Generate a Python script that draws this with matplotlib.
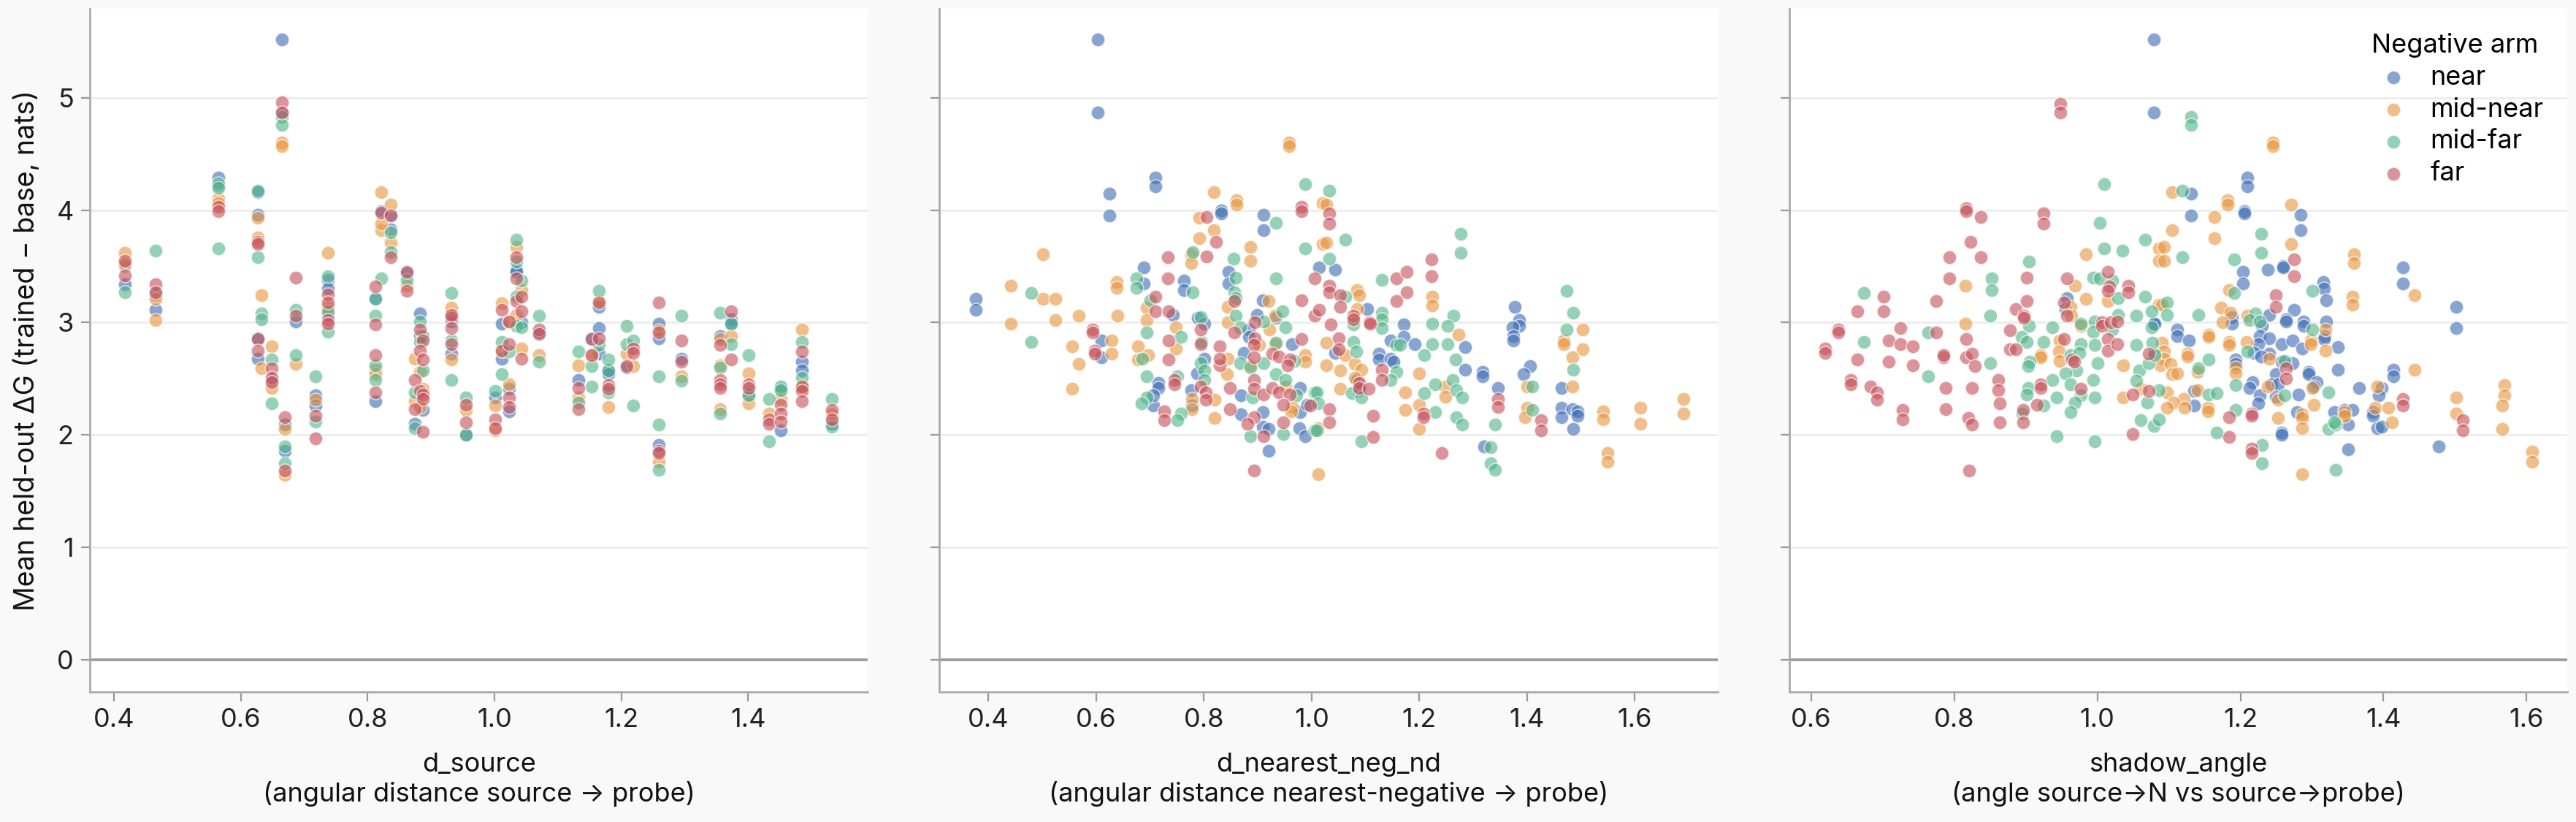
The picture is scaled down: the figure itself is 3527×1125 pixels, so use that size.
import matplotlib

matplotlib.use("Agg")
import matplotlib.pyplot as plt

plt.rcParams["font.family"] = ["Inter", "DejaVu Sans"]

ARMS = ["near", "mid-near", "mid-far", "far"]
ARM_COLORS = ["#3F6FB5", "#E8963F", "#52B58A", "#C6535A"]
Y_TICKS = [0, 1, 2, 3, 4, 5]
Y_LABEL = "Mean held-out \u0394G (trained \u2212 base, nats)"

# panel 1: d_source
src_near = [(0.417, 3.50), (0.417, 3.34), (0.465, 3.11), (0.465, 3.25), (0.565, 4.29), (0.565, 4.22), (0.627, 4.16), (0.627, 3.96), (0.627, 2.86), (0.627, 2.68), (0.649, 2.49), (0.665, 5.52), (0.665, 4.87), (0.669, 2.09), (0.669, 1.86), (0.687, 3.01), (0.718, 2.35), (0.718, 2.26), (0.737, 3.38), (0.737, 3.30), (0.737, 3.07), (0.812, 3.22), (0.812, 2.30), (0.822, 3.99), (0.836, 3.96), (0.836, 3.83), (0.862, 3.44), (0.882, 3.08), (0.882, 2.88), (0.887, 2.22), (0.874, 2.10), (0.932, 3.01), (0.932, 2.72), (0.955, 2.00), (1.001, 2.33), (1.012, 2.99), (1.012, 2.68), (1.023, 2.41), (1.023, 2.21), (1.035, 3.47), (1.035, 3.45), (1.043, 3.00), (1.070, 2.91), (1.133, 2.49), (1.153, 2.86), (1.165, 3.14), (1.165, 2.72), (1.165, 2.95), (1.180, 2.57), (1.180, 2.54), (1.208, 2.60), (1.259, 2.99), (1.259, 2.86), (1.259, 1.91), (1.295, 2.68), (1.356, 2.88), (1.373, 3.03), (1.373, 2.99), (1.401, 2.36), (1.451, 2.41), (1.451, 2.04), (1.485, 2.65), (1.485, 2.57), (1.532, 2.10)]
src_midnear = [(0.417, 3.62), (0.417, 3.52), (0.465, 3.21), (0.465, 3.02), (0.565, 4.10), (0.565, 4.06), (0.627, 3.93), (0.627, 3.76), (0.633, 3.24), (0.633, 2.59), (0.649, 2.79), (0.649, 2.42), (0.665, 4.60), (0.665, 4.57), (0.669, 2.05), (0.669, 1.64), (0.687, 2.63), (0.718, 2.31), (0.737, 3.62), (0.737, 3.14), (0.812, 2.58), (0.812, 2.54), (0.822, 4.16), (0.822, 3.82), (0.822, 3.88), (0.836, 4.05), (0.836, 3.71), (0.862, 3.33), (0.874, 2.68), (0.882, 2.56), (0.887, 2.41), (0.874, 2.30), (0.882, 2.25), (0.932, 3.13), (0.932, 2.67), (0.955, 2.22), (1.001, 2.26), (1.001, 2.04), (1.012, 3.17), (1.012, 2.75), (1.023, 3.00), (1.023, 2.45), (1.035, 3.67), (1.035, 3.07), (1.043, 3.29), (1.043, 2.77), (1.070, 2.71), (1.133, 2.62), (1.133, 2.33), (1.153, 2.71), (1.165, 3.19), (1.180, 2.25), (1.208, 2.72), (1.219, 2.61), (1.259, 2.93), (1.259, 1.76), (1.295, 2.52), (1.356, 2.85), (1.356, 2.23), (1.356, 2.62), (1.373, 2.88), (1.401, 2.55), (1.401, 2.28), (1.433, 2.19), (1.451, 2.32), (1.485, 2.94), (1.485, 2.43), (1.532, 2.18)]
src_midfar = [(0.417, 3.27), (0.465, 3.64), (0.565, 4.24), (0.565, 4.20), (0.565, 3.66), (0.627, 4.17), (0.627, 3.58), (0.633, 3.08), (0.633, 3.03), (0.649, 2.67), (0.649, 2.28), (0.665, 4.83), (0.665, 4.76), (0.669, 1.90), (0.669, 1.75), (0.687, 3.11), (0.687, 2.71), (0.718, 2.52), (0.718, 2.12), (0.737, 3.41), (0.737, 3.10), (0.737, 2.92), (0.812, 3.21), (0.812, 3.06), (0.812, 2.62), (0.812, 2.49), (0.822, 3.39), (0.836, 3.80), (0.836, 3.63), (0.862, 3.38), (0.882, 3.01), (0.887, 2.88), (0.882, 2.83), (0.887, 2.57), (0.874, 2.38), (0.874, 2.06), (0.932, 3.26), (0.932, 2.84), (0.932, 2.49), (0.955, 2.33), (0.955, 2.00), (1.001, 2.39), (1.012, 2.83), (1.012, 2.54), (1.023, 2.74), (1.035, 3.74), (1.035, 3.54), (1.035, 3.23), (1.035, 2.97), (1.043, 3.37), (1.043, 2.96), (1.070, 3.06), (1.070, 2.65), (1.133, 2.74), (1.133, 2.29), (1.153, 2.61), (1.153, 2.43), (1.165, 3.28), (1.165, 2.80), (1.180, 2.57), (1.180, 2.38), (1.180, 2.67), (1.208, 2.97), (1.208, 2.81), (1.219, 2.84), (1.219, 2.26), (1.259, 2.52), (1.259, 2.09), (1.259, 1.69), (1.295, 3.06), (1.295, 2.48), (1.356, 3.09), (1.356, 2.19), (1.356, 2.60), (1.373, 2.99), (1.373, 2.81), (1.401, 2.71), (1.401, 2.35), (1.433, 2.32), (1.433, 1.94), (1.451, 2.43), (1.451, 2.40), (1.485, 2.83), (1.485, 2.51), (1.532, 2.32), (1.532, 2.07)]
src_far = [(0.417, 3.55), (0.417, 3.42), (0.465, 3.34), (0.465, 3.27), (0.565, 4.03), (0.565, 3.99), (0.627, 3.72), (0.627, 3.70), (0.627, 2.85), (0.627, 2.75), (0.649, 2.59), (0.649, 2.51), (0.649, 2.47), (0.665, 4.96), (0.665, 4.87), (0.669, 2.16), (0.669, 1.68), (0.687, 3.40), (0.687, 3.06), (0.718, 2.17), (0.718, 1.97), (0.737, 3.25), (0.737, 3.18), (0.737, 3.02), (0.737, 2.99), (0.812, 3.32), (0.812, 2.98), (0.812, 2.71), (0.812, 2.38), (0.822, 3.98), (0.836, 3.95), (0.836, 3.58), (0.862, 3.45), (0.862, 3.28), (0.882, 2.94), (0.887, 2.84), (0.882, 2.75), (0.887, 2.67), (0.874, 2.49), (0.882, 2.39), (0.887, 2.36), (0.887, 2.32), (0.874, 2.23), (0.887, 2.03), (0.932, 3.04), (0.932, 3.07), (0.932, 2.95), (0.932, 2.81), (0.955, 2.27), (0.955, 2.11), (1.001, 2.14), (1.001, 2.06), (1.012, 3.11), (1.012, 2.75), (1.023, 3.01), (1.023, 2.81), (1.023, 2.33), (1.023, 2.25), (1.035, 3.58), (1.035, 3.39), (1.035, 3.19), (1.043, 3.23), (1.043, 3.10), (1.043, 2.68), (1.070, 2.94), (1.070, 2.90), (1.133, 2.42), (1.133, 2.23), (1.153, 2.85), (1.153, 2.71), (1.165, 3.18), (1.165, 2.86), (1.180, 2.44), (1.180, 2.41), (1.208, 2.61), (1.219, 2.77), (1.219, 2.73), (1.259, 3.18), (1.259, 2.91), (1.259, 1.86), (1.259, 1.84), (1.295, 2.84), (1.295, 2.65), (1.356, 2.80), (1.356, 2.49), (1.356, 2.45), (1.356, 2.42), (1.373, 3.10), (1.373, 2.67), (1.401, 2.45), (1.401, 2.42), (1.433, 2.14), (1.433, 2.10), (1.451, 2.27), (1.451, 2.19), (1.451, 2.12), (1.485, 2.74), (1.485, 2.43), (1.485, 2.39), (1.485, 2.30), (1.532, 2.22), (1.532, 2.14)]

# panel 2: d_nearest_neg_nd
nn_near = [(0.376, 3.21), (0.376, 3.11), (0.603, 5.52), (0.603, 4.87), (0.609, 2.84), (0.609, 2.69), (0.624, 4.15), (0.624, 3.95), (0.688, 3.49), (0.688, 3.35), (0.710, 4.29), (0.710, 4.21), (0.715, 2.46), (0.715, 2.42), (0.706, 2.26), (0.706, 2.35), (0.743, 3.07), (0.763, 3.37), (0.763, 3.29), (0.789, 3.04), (0.801, 2.99), (0.801, 2.68), (0.787, 2.55), (0.776, 2.40), (0.778, 2.26), (0.832, 4.00), (0.832, 3.97), (0.911, 3.96), (0.911, 3.82), (0.846, 3.45), (0.846, 3.35), (0.909, 3.20), (0.899, 3.07), (0.883, 2.94), (0.883, 2.87), (0.874, 2.73), (0.869, 2.35), (0.869, 2.18), (0.909, 2.20), (0.909, 2.07), (0.920, 2.05), (0.920, 1.86), (0.934, 3.04), (0.964, 2.81), (0.979, 2.42), (0.979, 2.20), (0.977, 2.06), (0.988, 1.99), (0.992, 2.27), (1.014, 3.49), (1.043, 3.47), (1.043, 2.73), (1.103, 3.12), (1.171, 2.98), (1.171, 2.87), (1.191, 2.81), (1.147, 2.84), (1.125, 2.72), (1.125, 2.67), (1.147, 2.68), (1.152, 2.65), (1.084, 2.49), (1.089, 2.40), (1.285, 2.78), (1.285, 2.58), (1.317, 2.56), (1.317, 2.52), (1.346, 2.42), (1.321, 1.90), (1.377, 3.14), (1.385, 3.02), (1.385, 2.97), (1.373, 2.96), (1.374, 2.88), (1.374, 2.84), (1.406, 2.61), (1.394, 2.54), (1.464, 2.42), (1.464, 2.24), (1.464, 2.16), (1.484, 2.23), (1.494, 2.21), (1.494, 2.17), (1.486, 2.05)]
nn_midnear = [(0.442, 3.33), (0.442, 2.99), (0.501, 3.61), (0.501, 3.21), (0.524, 3.21), (0.524, 3.02), (0.556, 2.79), (0.568, 3.06), (0.568, 2.63), (0.556, 2.41), (0.628, 2.84), (0.628, 2.72), (0.638, 3.36), (0.638, 3.31), (0.640, 3.06), (0.677, 2.79), (0.677, 2.67), (0.696, 2.71), (0.694, 3.13), (0.694, 3.02), (0.748, 2.77), (0.748, 2.96), (0.778, 2.32), (0.778, 2.23), (0.777, 3.61), (0.777, 3.53), (0.792, 3.93), (0.792, 3.75), (0.818, 4.16), (0.818, 3.82), (0.861, 4.09), (0.861, 4.05), (0.886, 3.67), (0.886, 3.55), (0.958, 4.60), (0.958, 4.57), (0.844, 3.14), (0.844, 3.00), (0.844, 2.68), (0.843, 2.54), (0.820, 2.31), (0.820, 2.15), (0.886, 2.62), (0.902, 2.80), (0.920, 3.19), (0.932, 3.06), (0.932, 2.81), (0.922, 2.94), (0.988, 2.71), (0.988, 2.65), (0.952, 2.43), (0.964, 2.25), (0.962, 2.21), (1.012, 1.65), (1.020, 3.70), (1.020, 4.06), (1.028, 4.05), (1.028, 3.71), (1.084, 3.29), (1.089, 3.24), (1.084, 3.12), (1.224, 3.23), (1.224, 3.15), (1.273, 2.89), (1.028, 2.82), (1.062, 2.71), (1.028, 2.62), (1.053, 2.57), (1.053, 2.41), (1.080, 2.63), (1.092, 2.58), (1.080, 2.51), (1.011, 2.06), (1.174, 2.38), (1.174, 2.22), (1.200, 2.55), (1.200, 2.27), (1.200, 2.05), (1.249, 2.43), (1.249, 2.34), (1.400, 2.43), (1.400, 2.24), (1.396, 2.16), (1.468, 2.84), (1.468, 2.81), (1.503, 2.94), (1.503, 2.76), (1.484, 2.69), (1.484, 2.43), (1.542, 2.21), (1.542, 2.14), (1.549, 1.84), (1.549, 1.76), (1.610, 2.24), (1.610, 2.10), (1.690, 2.32), (1.690, 2.19)]
nn_midfar = [(0.479, 3.26), (0.479, 2.83), (0.675, 3.39), (0.675, 3.31), (0.686, 2.68), (0.694, 2.91), (0.694, 2.52), (0.694, 2.33), (0.684, 2.28), (0.701, 3.20), (0.757, 2.87), (0.750, 2.52), (0.757, 2.19), (0.750, 2.13), (0.779, 3.27), (0.779, 3.63), (0.794, 3.05), (0.796, 2.83), (0.794, 2.64), (0.801, 2.57), (0.801, 2.49), (0.855, 3.57), (0.859, 3.40), (0.857, 3.27), (0.859, 3.22), (0.859, 3.06), (0.867, 2.96), (0.867, 2.64), (0.886, 2.60), (0.911, 2.64), (0.890, 2.33), (0.886, 1.99), (0.934, 3.89), (0.934, 3.39), (0.911, 3.01), (0.946, 3.10), (0.951, 2.96), (0.934, 2.82), (0.934, 2.54), (0.951, 2.49), (0.968, 2.66), (0.972, 2.35), (1.005, 2.38), (0.947, 2.01), (1.005, 2.04), (0.988, 4.23), (0.988, 3.66), (1.033, 4.17), (1.062, 3.74), (1.033, 3.57), (1.062, 3.23), (1.077, 2.98), (1.131, 3.09), (1.131, 3.03), (1.131, 2.95), (1.131, 3.38), (1.277, 3.79), (1.277, 3.62), (1.157, 2.80), (1.165, 2.80), (1.224, 2.99), (1.224, 2.81), (1.263, 3.06), (1.252, 2.97), (1.252, 2.81), (1.209, 2.71), (1.077, 2.83), (1.083, 2.74), (1.157, 2.56), (1.147, 2.49), (1.075, 2.37), (1.092, 2.33), (1.010, 2.38), (1.012, 2.28), (1.010, 2.04), (1.092, 1.94), (1.209, 2.37), (1.229, 2.45), (1.229, 2.20), (1.268, 2.67), (1.262, 2.49), (1.269, 2.40), (1.280, 2.33), (1.269, 2.16), (1.280, 2.09), (1.341, 2.09), (1.332, 1.89), (1.332, 1.75), (1.341, 1.69), (1.410, 2.43), (1.410, 2.22), (1.474, 3.28), (1.486, 3.09), (1.474, 2.94), (1.486, 2.58)]
nn_far = [(0.597, 2.75), (0.597, 2.72), (0.593, 2.94), (0.593, 2.91), (0.710, 3.23), (0.710, 3.10), (0.733, 3.58), (0.733, 3.39), (0.735, 2.84), (0.734, 2.67), (0.734, 3.10), (0.745, 2.49), (0.745, 2.45), (0.726, 2.21), (0.726, 2.13), (0.805, 3.94), (0.805, 3.59), (0.823, 3.72), (0.794, 2.94), (0.794, 2.81), (0.830, 2.79), (0.830, 2.62), (0.829, 2.68), (0.794, 2.43), (0.804, 2.38), (0.804, 2.31), (0.857, 3.19), (0.857, 2.91), (0.848, 2.42), (0.848, 2.23), (0.895, 3.00), (0.895, 2.86), (0.893, 2.80), (0.893, 2.69), (0.893, 2.49), (0.893, 2.41), (0.911, 2.36), (0.893, 2.16), (0.881, 2.10), (0.911, 1.99), (0.893, 1.68), (0.927, 2.72), (0.939, 2.70), (0.960, 2.67), (0.981, 2.85), (0.955, 2.62), (0.927, 2.42), (0.939, 2.38), (0.960, 2.36), (0.947, 2.27), (0.947, 2.11), (0.981, 4.03), (0.981, 3.99), (0.998, 2.26), (0.981, 3.20), (1.005, 3.39), (1.005, 3.06), (1.033, 3.97), (1.033, 3.88), (1.033, 3.33), (1.033, 3.27), (1.053, 3.24), (1.053, 3.14), (1.014, 3.11), (1.035, 2.98), (1.077, 3.06), (1.077, 3.03), (1.108, 3.00), (1.109, 2.99), (1.157, 3.39), (1.177, 3.45), (1.177, 3.27), (1.157, 3.19), (1.223, 3.56), (1.223, 3.41), (1.050, 2.86), (1.050, 2.76), (1.131, 2.58), (1.131, 2.49), (1.089, 2.46), (1.089, 2.42), (1.106, 2.41), (1.033, 2.23), (1.033, 2.11), (1.114, 2.17), (1.114, 1.98), (1.208, 2.19), (1.208, 2.16), (1.242, 1.84), (1.346, 2.32), (1.346, 2.25), (1.426, 2.13), (1.426, 2.04)]

# panel 3: shadow_angle
sh_near = [(0.957, 3.22), (0.955, 3.12), (1.079, 2.99), (1.079, 2.72), (1.079, 5.52), (1.079, 4.87), (1.210, 4.29), (1.210, 4.21), (1.206, 3.99), (1.206, 3.97), (1.131, 4.15), (1.131, 3.95), (1.284, 3.96), (1.284, 3.82), (1.238, 3.47), (1.260, 3.50), (1.260, 3.49), (1.204, 3.45), (1.204, 3.35), (1.427, 3.49), (1.427, 3.35), (1.316, 3.36), (1.317, 3.30), (1.320, 3.20), (1.188, 3.05), (1.188, 2.99), (1.275, 3.11), (1.264, 3.03), (1.264, 3.01), (1.288, 3.01), (1.288, 2.97), (1.240, 3.07), (1.230, 2.97), (1.112, 2.94), (1.112, 2.88), (1.128, 2.84), (1.227, 2.88), (1.240, 2.86), (1.225, 2.81), (1.258, 2.81), (1.273, 2.84), (1.320, 3.01), (1.318, 2.88), (1.317, 2.85), (1.286, 2.77), (1.336, 2.78), (1.219, 2.73), (1.240, 2.72), (1.229, 2.70), (1.193, 2.67), (1.193, 2.63), (1.258, 2.65), (1.273, 2.64), (1.249, 2.54), (1.295, 2.56), (1.295, 2.54), (1.336, 2.58), (1.307, 2.47), (1.303, 2.43), (1.217, 2.47), (1.213, 2.42), (1.227, 2.35), (1.225, 2.28), (1.243, 2.45), (1.253, 2.45), (1.249, 2.34), (1.281, 2.36), (1.135, 2.39), (1.135, 2.26), (1.279, 2.20), (1.258, 2.02), (1.258, 2.00), (1.331, 2.20), (1.346, 2.22), (1.357, 2.22), (1.351, 2.09), (1.366, 2.42), (1.398, 2.42), (1.394, 2.35), (1.385, 2.20), (1.385, 2.17), (1.391, 2.06), (1.398, 2.07), (1.351, 1.87), (1.414, 2.58), (1.414, 2.52), (1.502, 3.14), (1.502, 2.95), (1.477, 1.90), (1.080, 2.99)]
sh_midnear = [(0.815, 3.33), (0.815, 2.99), (0.921, 2.71), (0.921, 2.69), (0.969, 3.33), (0.963, 3.14), (0.964, 3.06), (0.977, 2.97), (0.947, 2.84), (0.946, 2.74), (0.947, 2.66), (0.984, 3.61), (0.984, 3.21), (1.015, 3.19), (1.036, 2.62), (1.036, 2.33), (1.061, 2.41), (1.086, 3.66), (1.086, 3.55), (1.086, 3.16), (1.245, 4.60), (1.245, 4.57), (1.104, 4.16), (1.182, 4.09), (1.182, 4.05), (1.164, 3.94), (1.164, 3.75), (1.104, 3.82), (1.093, 3.67), (1.093, 3.55), (1.271, 4.05), (1.271, 3.70), (1.359, 3.61), (1.359, 3.53), (1.357, 3.23), (1.357, 3.16), (1.444, 3.24), (1.184, 3.29), (1.090, 3.16), (1.173, 3.13), (1.186, 3.09), (1.210, 3.06), (1.175, 3.00), (1.156, 2.89), (1.156, 2.87), (1.184, 2.83), (1.184, 2.80), (1.209, 2.83), (1.319, 2.94), (1.299, 2.84), (1.299, 2.81), (1.319, 2.75), (1.240, 2.68), (1.126, 2.72), (1.126, 2.70), (1.090, 2.82), (1.093, 2.74), (1.093, 2.68), (1.088, 2.62), (1.102, 2.63), (1.104, 2.54), (1.112, 2.55), (1.140, 2.56), (1.193, 2.60), (1.193, 2.55), (1.301, 2.42), (1.238, 2.43), (1.253, 2.31), (1.140, 2.40), (1.097, 2.38), (1.121, 2.32), (1.107, 2.29), (1.122, 2.24), (1.097, 2.24), (1.154, 2.24), (1.154, 2.21), (1.253, 2.15), (1.286, 2.18), (1.286, 2.15), (1.286, 2.06), (1.303, 2.27), (1.286, 1.65), (1.346, 2.20), (1.346, 2.17), (1.391, 2.43), (1.388, 2.24), (1.407, 2.24), (1.412, 2.11), (1.444, 2.58), (1.502, 2.33), (1.502, 2.19), (1.569, 2.44), (1.569, 2.35), (1.566, 2.26), (1.566, 2.05), (1.608, 1.85), (1.608, 1.76)]
sh_midfar = [(0.673, 3.26), (0.673, 2.83), (0.763, 2.91), (0.763, 2.52), (0.852, 3.39), (0.852, 3.29), (0.850, 3.06), (0.850, 2.64), (0.904, 3.54), (0.904, 2.97), (0.894, 2.87), (0.901, 2.83), (0.905, 2.65), (0.903, 2.61), (0.903, 2.42), (0.901, 2.36), (0.895, 2.19), (0.925, 2.26), (0.937, 2.96), (0.925, 2.83), (0.937, 2.49), (0.943, 2.33), (0.943, 1.99), (1.009, 4.23), (1.003, 3.89), (1.009, 3.66), (1.035, 3.64), (1.067, 3.74), (0.994, 3.40), (1.003, 3.39), (1.021, 3.37), (1.029, 3.22), (1.067, 3.23), (0.977, 2.99), (0.996, 3.01), (1.021, 2.94), (1.029, 3.07), (1.054, 3.06), (1.076, 3.10), (1.076, 2.96), (0.994, 2.92), (0.996, 2.80), (0.977, 2.81), (0.963, 2.71), (0.975, 2.73), (1.000, 2.64), (0.971, 2.57), (0.955, 2.55), (0.994, 2.49), (0.963, 2.45), (0.977, 2.35), (0.969, 2.29), (0.996, 2.33), (0.963, 2.20), (1.054, 2.80), (1.058, 2.57), (1.054, 2.48), (1.070, 2.29), (1.061, 2.13), (1.079, 2.08), (1.077, 2.82), (1.072, 2.64), (0.996, 1.94), (1.131, 4.83), (1.131, 4.76), (1.119, 4.17), (1.119, 3.58), (1.229, 3.79), (1.229, 3.62), (1.191, 3.56), (1.191, 3.26), (1.301, 3.28), (1.097, 3.18), (1.097, 3.07), (1.141, 3.07), (1.221, 3.08), (1.213, 3.02), (1.227, 3.01), (1.301, 2.94), (1.210, 2.74), (1.080, 2.71), (1.141, 2.59), (1.156, 2.67), (1.262, 2.66), (1.323, 2.38), (1.193, 2.44), (1.156, 2.36), (1.167, 2.37), (1.086, 2.40), (1.262, 2.35), (1.193, 2.22), (1.167, 2.02), (1.323, 2.05), (1.333, 2.09), (1.086, 2.14), (1.230, 1.91), (1.230, 1.75), (1.333, 1.69), (1.331, 2.11)]
sh_far = [(0.619, 2.77), (0.619, 2.73), (0.638, 2.94), (0.638, 2.91), (0.664, 3.10), (0.664, 2.67), (0.655, 2.49), (0.655, 2.45), (0.701, 3.23), (0.701, 3.10), (0.683, 2.43), (0.692, 2.38), (0.692, 2.31), (0.708, 2.84), (0.708, 2.65), (0.725, 2.95), (0.725, 2.81), (0.742, 2.79), (0.742, 2.62), (0.728, 2.22), (0.728, 2.14), (0.775, 3.19), (0.775, 2.91), (0.785, 2.69), (0.785, 2.71), (0.788, 2.42), (0.788, 2.23), (0.793, 3.58), (0.793, 3.39), (0.816, 4.02), (0.816, 3.99), (0.837, 3.94), (0.823, 3.72), (0.837, 3.58), (0.816, 2.85), (0.816, 2.69), (0.825, 2.72), (0.829, 2.61), (0.825, 2.42), (0.820, 2.15), (0.825, 2.09), (0.821, 1.68), (0.861, 2.49), (0.861, 2.40), (0.863, 2.28), (0.863, 2.11), (0.878, 2.93), (0.878, 2.76), (0.886, 3.12), (0.886, 2.76), (0.901, 3.40), (0.901, 3.19), (0.897, 3.06), (0.897, 3.04), (0.896, 2.22), (0.896, 2.11), (0.921, 2.45), (0.921, 2.42), (0.916, 2.27), (0.925, 3.97), (0.925, 3.88), (0.948, 4.95), (0.948, 4.87), (0.957, 3.39), (0.953, 3.18), (0.957, 3.06), (0.953, 2.85), (0.965, 2.67), (0.968, 2.65), (0.977, 2.41), (1.006, 3.00), (1.006, 2.97), (1.019, 3.00), (1.028, 3.01), (1.015, 3.45), (1.017, 3.32), (1.015, 3.28), (1.043, 3.33), (1.043, 3.27), (1.015, 2.85), (1.015, 2.75), (1.028, 2.81), (1.049, 2.36), (1.049, 2.01), (1.072, 2.72), (1.072, 2.39), (1.275, 3.56), (1.275, 3.41), (1.249, 3.24), (1.249, 3.14), (1.264, 2.59), (1.264, 2.50), (1.427, 2.32), (1.427, 2.26), (1.184, 2.16), (1.184, 1.98), (1.216, 2.19), (1.216, 2.17), (1.216, 1.88), (1.216, 1.84), (1.511, 2.13), (1.511, 2.04)]

PANELS = [
    ("d_source\n(angular distance source \u2192 probe)", (0.362, 1.589), [0.4, 0.6, 0.8, 1.0, 1.2, 1.4],
     [src_near, src_midnear, src_midfar, src_far]),
    ("d_nearest_neg_nd\n(angular distance nearest-negative \u2192 probe)", (0.309, 1.754), [0.4, 0.6, 0.8, 1.0, 1.2, 1.4, 1.6],
     [nn_near, nn_midnear, nn_midfar, nn_far]),
    ("shadow_angle\n(angle source\u2192N vs source\u2192probe)", (0.569, 1.657), [0.6, 0.8, 1.0, 1.2, 1.4, 1.6],
     [sh_near, sh_midnear, sh_midfar, sh_far]),
]


def draw_panel(ax, xlabel, xlim, xticks, series):
    ax.set_facecolor("white")
    for arm, color, points in zip(ARMS, ARM_COLORS, series):
        xs = [p[0] for p in points]
        ys = [p[1] for p in points]
        ax.scatter(xs, ys, s=46, color=color, alpha=0.62, edgecolors="white", linewidths=0.6, label=arm, zorder=3)
    ax.axhline(0, color="#999999", linewidth=1.3, zorder=2)
    ax.yaxis.grid(True, color="#ebebeb", linewidth=0.9)
    ax.set_axisbelow(True)
    ax.set_xlim(*xlim)
    ax.set_xticks(xticks)
    ax.set_xticklabels(["%.1f" % t for t in xticks])
    ax.set_xlabel(xlabel, fontsize=13, labelpad=10, color="#111111")
    for side in ("top", "right"):
        ax.spines[side].set_visible(False)
    for side in ("left", "bottom"):
        ax.spines[side].set_color("#aaaaaa")
        ax.spines[side].set_linewidth(1.0)
    ax.tick_params(axis="both", length=4.5, width=0.8, color="#999999", labelsize=13, labelcolor="#222222")


fig = plt.figure(figsize=(17.635, 5.625), dpi=200, facecolor="#f9f9f9")
axes = fig.subplots(1, 3, sharey=True)
fig.subplots_adjust(left=0.0349, right=0.9966, top=0.989, bottom=0.158, wspace=0.092)

for ax, (xlabel, xlim, xticks, series) in zip(axes, PANELS):
    draw_panel(ax, xlabel, xlim, xticks, series)

axes[0].set_ylim(-0.29, 5.79)
axes[0].set_yticks(Y_TICKS)
axes[0].set_ylabel(Y_LABEL, fontsize=13.5, color="#111111", labelpad=8)

legend = axes[2].legend(title="Negative arm", loc="upper right", frameon=False, fontsize=13,
                        title_fontsize=13, handletextpad=0.4, labelspacing=0.3)

fig.savefig("out.png", dpi=200, facecolor=fig.get_facecolor())
